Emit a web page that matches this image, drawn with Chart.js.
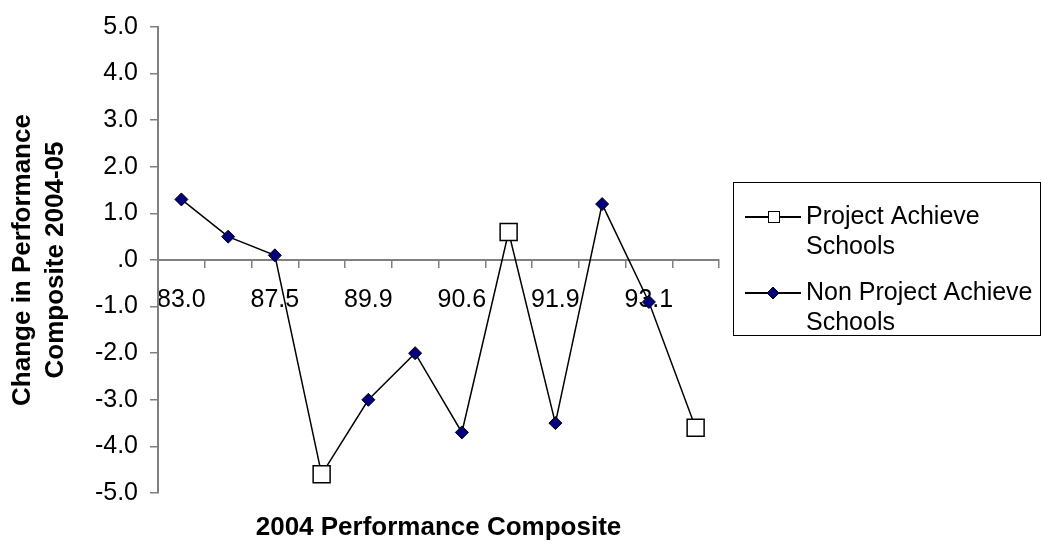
<!DOCTYPE html>
<html><head><meta charset="utf-8">
<script src="https://cdn.jsdelivr.net/npm/chart.js@4.4.1/dist/chart.umd.min.js"></script>
<style>html,body{margin:0;padding:0;background:#fff;}#wrap{width:1042px;height:554px;}</style>
</head><body><div id="wrap"><canvas id="c" width="1042" height="554"></canvas></div>
<script>
// ---- data ----
const tickLabels = ['83.0','','87.5','','89.9','','90.6','','91.9','','93.1',''];
const projectAchieve    = [null, null, null, -4.6, null, null, null, 0.6, null, null, null, -3.6];
const nonProjectAchieve = [1.3, 0.5, 0.1, null, -3.0, -2.0, -3.7, null, -3.5, 1.2, -0.9, null];
const seriesNames = [['Project Achieve', 'Schools'], ['Non Project Achieve', 'Schools']];
const yTitle = ['Change in Performance', 'Composite 2004-05'];
const xTitle = '2004 Performance Composite';
const yTicks = { min: -5, max: 5, step: 1 };

// single connecting line through all schools, in category order
const connected = nonProjectAchieve.map((v, i) => v !== null ? v : projectAchieve[i]);

const FONT = "'Liberation Sans', Arial, sans-serif";

const decor = {
  id: 'decor',
  afterDraw(chart) {
    const ctx = chart.ctx, ca = chart.chartArea;
    ctx.save();
    // x axis title
    ctx.fillStyle = '#000';
    ctx.font = 'bold 26px ' + FONT;
    ctx.textAlign = 'center';
    ctx.textBaseline = 'middle';
    ctx.fillText(xTitle, (ca.left + ca.right) / 2, ca.bottom + 35);

    // legend box
    const bx = 733.5, by = 182.5, bw = 307, bh = 153;
    ctx.strokeStyle = '#000';
    ctx.lineWidth = 1;
    ctx.strokeRect(bx, by, bw, bh);
    const rows = [217, 293];
    ctx.font = '25px ' + FONT;
    ctx.textAlign = 'left';
    rows.forEach((ry, k) => {
      ctx.strokeStyle = '#000';
      ctx.lineWidth = 2;
      ctx.beginPath();
      ctx.moveTo(745, ry); ctx.lineTo(801, ry);
      ctx.stroke();
      ctx.lineWidth = 1;
      if (k === 0) {
        ctx.fillStyle = '#fff';
        ctx.fillRect(768, ry - 6, 12, 12);
        ctx.strokeRect(768.5, ry - 5.5, 11, 11);
      } else {
        ctx.fillStyle = '#000080';
        ctx.beginPath();
        ctx.moveTo(773, ry - 6); ctx.lineTo(779, ry); ctx.lineTo(773, ry + 6); ctx.lineTo(767, ry);
        ctx.closePath(); ctx.fill(); ctx.stroke();
      }
      ctx.fillStyle = '#000';
      seriesNames[k].forEach((t, j) => ctx.fillText(t, 806, ry + j * 30));
    });
    ctx.restore();
  }
};

new Chart(document.getElementById('c'), {
  type: 'line',
  data: {
    labels: tickLabels,
    datasets: [
      { label: 'line', data: connected, borderColor: '#000', borderWidth: 1.5, pointRadius: 0, fill: false, order: 2, tension: 0 },
      { label: seriesNames[0].join(' '), data: projectAchieve, showLine: false, pointStyle: 'rect', pointRadius: 12,
        pointBackgroundColor: '#fff', pointBorderColor: '#000', pointBorderWidth: 1.5, order: 0 },
      { label: seriesNames[1].join(' '), data: nonProjectAchieve, showLine: false, pointStyle: 'rectRot', pointRadius: 6.5,
        pointBackgroundColor: '#000080', pointBorderColor: '#000', pointBorderWidth: 1, order: 1 }
    ]
  },
  options: {
    responsive: false, animation: false, events: [],
    layout: { padding: { left: 0, top: 6, right: 323, bottom: 61 } },
    plugins: { legend: { display: false }, tooltip: { enabled: false } },
    scales: {
      x: {
        type: 'category', position: { y: 0 }, offset: true,
        grid: { display: true, offset: true, drawOnChartArea: false, drawTicks: true, tickLength: 7, color: '#808080', lineWidth: 1.5 },
        border: { display: true, color: '#808080', width: 2 },
        ticks: { autoSkip: false, maxRotation: 0, minRotation: 0, padding: 18, color: '#000', font: { family: FONT, size: 25 } }
      },
      y: {
        min: yTicks.min, max: yTicks.max,
        afterFit(s) { s.width = 158; },
        grid: { display: true, drawOnChartArea: false, drawTicks: true, tickLength: 8, color: '#808080', lineWidth: 1.5 },
        border: { display: true, color: '#808080', width: 2 },
        ticks: { stepSize: yTicks.step, padding: 12, color: '#000', font: { family: FONT, size: 25 },
          callback: v => v === 0 ? '.0' : v.toFixed(1) },
        title: { display: true, text: yTitle, color: '#000', font: { family: FONT, size: 26, weight: 'bold', lineHeight: 1.25 }, padding: { top: 7, bottom: 0 } }
      }
    }
  },
  plugins: [decor]
});
</script></body></html>
